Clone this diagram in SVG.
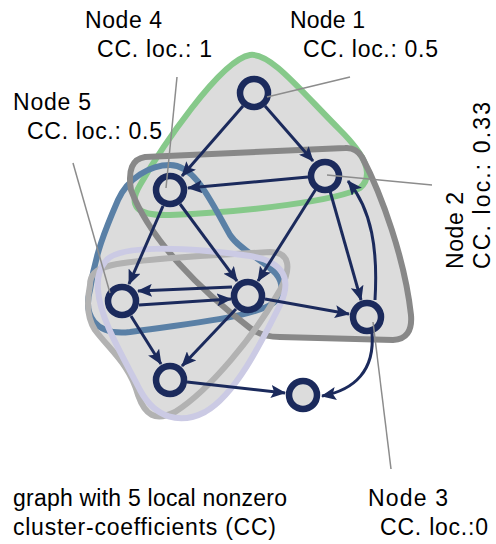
<svg xmlns="http://www.w3.org/2000/svg" width="496" height="544" viewBox="0 0 496 544">
<style>
.hull{fill:#dcdcdc;stroke:none}
.hs{fill:none;stroke-width:6;stroke-linejoin:round}
.e{fill:none;stroke:#1b2a5c;stroke-width:3;marker-end:url(#ah)}
.n{fill:#dcdcdc;stroke:#1b2a5c;stroke-width:6.5}
.p{stroke:#8c8c8c;stroke-width:1.5;fill:none}
text{font-family:"Liberation Sans",Arial,sans-serif;font-size:23px;fill:#000}
</style>
<defs>
<marker id="ah" markerUnits="userSpaceOnUse" markerWidth="15" markerHeight="13" refX="14" refY="6.5" orient="auto">
<path d="M0,0 L15,6.5 L0,13 L3,6.5 z" fill="#1b2a5c"/>
</marker>
</defs>
<g id="hulls">
<path id="hull-green-fill" class="hull" d="M250,55 C270,52 300,90 340,130 C365,155 375,175 360,188 C340,200 250,212 170,215 C135,216 128,205 140,185 C160,150 220,60 250,55 Z"/>
<path id="hull-blue-fill" class="hull" d="M170,165 C195,165 210,200 230,235 C245,258 290,268 280,295 C275,315 200,322 130,332 C95,336 83,315 90,290 C95,255 105,230 118,200 C128,178 150,165 170,165 Z"/>
<path id="hull-dgray-fill" class="hull" d="M145,157 L345,148 Q356,147 362,157 C382,195 405,260 411,315 Q413,339 393,340 L280,337 Q262,337 250,328 C200,290 150,240 131,190 Q126,160 145,157 Z"/>
<path id="hull-lgray-fill" class="hull" d="M90,285 C90,265 110,262 200,256 L270,252 C290,252 292,268 280,290 C255,335 210,390 175,412 C155,422 145,415 138,395 C130,365 110,350 95,330 C85,315 88,295 90,285 Z"/>
<path id="hull-lav-fill" class="hull" d="M105,262 C115,245 180,246 250,256 C285,262 292,280 280,305 C260,345 235,395 205,412 C180,425 155,418 140,390 C125,360 100,320 98,290 C97,278 100,268 105,262 Z"/>
<path class="hs" stroke="#86c98a" d="M250,55 C270,52 300,90 340,130 C365,155 375,175 360,188 C340,200 250,212 170,215 C135,216 128,205 140,185 C160,150 220,60 250,55 Z"/>
<path class="hs" stroke="#5a80a6" d="M170,165 C195,165 210,200 230,235 C245,258 290,268 280,295 C275,315 200,322 130,332 C95,336 83,315 90,290 C95,255 105,230 118,200 C128,178 150,165 170,165 Z"/>
<path class="hs" stroke="#888888" stroke-width="7" d="M145,157 L345,148 Q356,147 362,157 C382,195 405,260 411,315 Q413,339 393,340 L280,337 Q262,337 250,328 C200,290 150,240 131,190 Q126,160 145,157 Z"/>
<path class="hs" stroke="#b2b2b2" d="M90,285 C90,265 110,262 200,256 L270,252 C290,252 292,268 280,290 C255,335 210,390 175,412 C155,422 145,415 138,395 C130,365 110,350 95,330 C85,315 88,295 90,285 Z"/>
<path class="hs" stroke="#cbcae4" d="M105,262 C115,245 180,246 250,256 C285,262 292,280 280,305 C260,345 235,395 205,412 C180,425 155,418 140,390 C125,360 100,320 98,290 C97,278 100,268 105,262 Z"/>
</g>
<g id="connectors">
<path class="e" d="M243,106 L182,176"/>
<path class="e" d="M265,106 L313,161"/>
<path class="e" d="M308,177 L188,188"/>
<path class="e" d="M163,206 L129,284"/>
<path class="e" d="M180,204 L237,281"/>
<path class="e" d="M316,189 L258,281"/>
<path class="e" d="M330,191 L361,300"/>
<path class="e" d="M375,300 C378,250 372,210 348,181"/>
<path class="e" d="M265,299 L349,314"/>
<path class="e" d="M232,287 L138,291"/>
<path class="e" d="M139,305 L231,299"/>
<path class="e" d="M131,316 L161,364"/>
<path class="e" d="M236,309 L182,366"/>
<path class="e" d="M187,382 L285,393"/>
<path class="e" d="M372,333 C375,370 355,390 322,396"/>
</g>
<g id="node1"><circle class="n" cx="254" cy="93" r="14"/></g>
<g id="node2"><circle class="n" cx="325" cy="176" r="14"/></g>
<g id="node4"><circle class="n" cx="170" cy="190" r="14"/></g>
<g id="node5"><circle class="n" cx="122" cy="301" r="14"/></g>
<g id="node-mid"><circle class="n" cx="248" cy="296" r="14"/></g>
<g id="node3"><circle class="n" cx="367" cy="317" r="14"/></g>
<g id="node-bl"><circle class="n" cx="170" cy="380" r="14"/></g>
<g id="node-br"><circle class="n" cx="303" cy="395" r="14"/></g>
<g id="pointers">
<path class="p" d="M350,77 L267,97"/>
<path class="p" d="M177,77 L166,188"/>
<path class="p" d="M73,163 L110,293"/>
<path class="p" d="M327,175 L432,185"/>
<path class="p" d="M373,322 L391,469"/>
</g>
<g id="labels">
<text x="85" y="28" textLength="77">Node 4</text>
<text x="97" y="57" textLength="115">CC. loc.: 1</text>
<text x="290" y="28" textLength="75">Node 1</text>
<text x="303" y="57" textLength="135">CC. loc.: 0.5</text>
<text x="13" y="110" textLength="78">Node 5</text>
<text x="27" y="139" textLength="135">CC. loc.: 0.5</text>
<text transform="translate(463,269) rotate(-90)" textLength="77">Node 2</text>
<text transform="translate(490,269) rotate(-90)" textLength="167">CC. loc.: 0.33</text>
<text x="13" y="506" textLength="274">graph with 5 local nonzero</text>
<text x="13" y="535" textLength="263">cluster-coefficients (CC)</text>
<text x="368" y="506" textLength="80">Node 3</text>
<text x="380" y="535" textLength="108">CC. loc.:0</text>
</g>
</svg>
